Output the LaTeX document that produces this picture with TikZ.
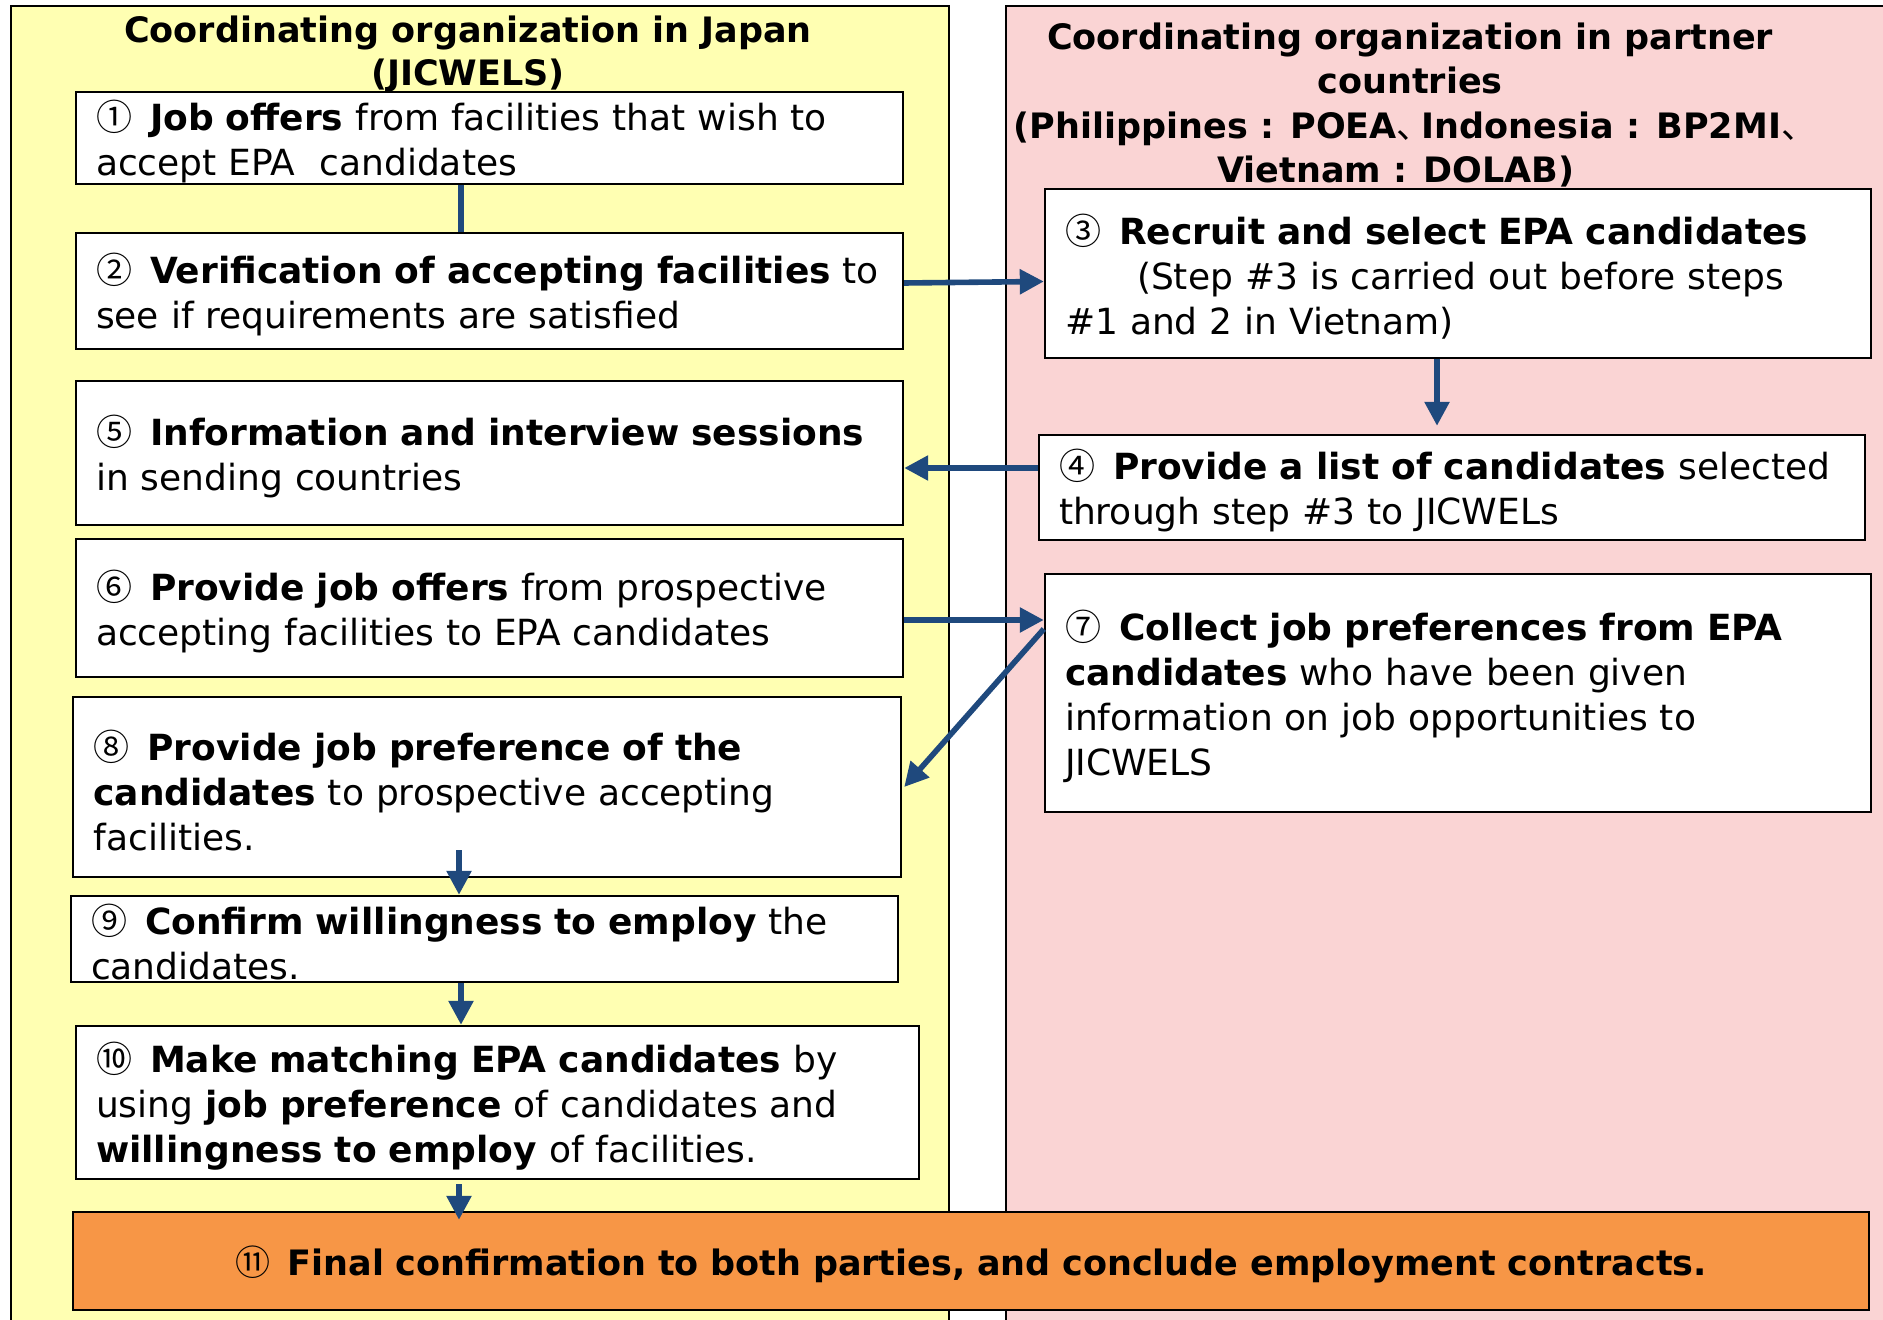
\documentclass[tikz,border=0pt]{standalone}
\usepackage{fontspec}
\setmainfont{DejaVu Sans}
\newfontfamily\cjk{Noto Sans CJK JP}
\usetikzlibrary{arrows.meta}
\definecolor{panelyellow}{RGB}{255,255,178}
\definecolor{panelpink}{RGB}{250,212,212}
\definecolor{flowblue}{RGB}{31,73,125}
\definecolor{finalorange}{RGB}{247,150,70}
\newcommand{\jpcomma}{\makebox[0.72em][l]{\cjk\mdseries 、}}
\newcommand{\stepno}[1]{\raisebox{0pt}[0pt][0pt]{\cjk\mdseries #1}\enspace}

\begin{document}
\begin{tikzpicture}[x=0.5pt, y=-0.5pt,
  font=\fontsize{18}{22.5}\selectfont,
  stepbox/.style={draw=black, line width=1.2pt, fill=white, inner xsep=10pt, inner ysep=0pt,
    align=left, minimum width=413.5pt, text width=393.5pt,
    execute at begin node={\rule{0pt}{18.5pt}}},
  flow/.style={draw=flowblue, line width=2.8pt, -{Triangle[length=12pt,width=12pt]}},
  header/.style={font=\fontsize{17.5}{21.6}\selectfont\bfseries, align=center}]
\useasboundingbox (0,0) rectangle (1883,1320);
\clip (0,0) rectangle (1883,1320);

% Draw the two panels
\fill[panelyellow] (11,6) rectangle (949,1340);
\draw[line width=1pt] (11,6) rectangle (949,1340);
\fill[panelpink] (1006,6) rectangle (1900,1340);
\draw[line width=1pt] (1006,6) rectangle (1900,1340);

% Panel titles
\node[header] (japan) at (468,54) {Coordinating organization in Japan\\(JICWELS)};
\node[header, font=\fontsize{17.5}{22.2}\selectfont\bfseries] (partner) at (1410,105) {Coordinating organization in partner\\countries\\(Philippines : POEA\jpcomma Indonesia : BP2MI\jpcomma\\Vietnam : DOLAB)\hspace*{14pt}};

% Steps in Japan
\node[stepbox, minimum height=46pt] (offers) at (489.5,138)
  {\stepno{①}\textbf{Job offers} from facilities that wish to\\accept EPA\ \ candidates};
\node[stepbox, minimum height=58pt] (verify) at (489.5,291)
  {\stepno{②}\textbf{Verification of accepting facilities} to\\see if requirements are satisfied};
\node[stepbox, minimum height=72pt] (session) at (489.5,453)
  {\stepno{⑤}\textbf{Information and interview sessions}\\in sending countries};
\node[stepbox, minimum height=69pt] (provide) at (489.5,608)
  {\stepno{⑥}\textbf{Provide job offers} from prospective\\accepting facilities to EPA candidates};
\node[stepbox, minimum width=414pt, minimum height=90pt] (prefer) at (487,787)
  {\stepno{⑧}\textbf{Provide job preference of the}\\\textbf{candidates} to prospective accepting\\facilities.};
\node[stepbox, minimum height=43pt] (confirm) at (484.5,939)
  {\stepno{⑨}\textbf{Confirm willingness to employ} the\\candidates.};
\node[stepbox, minimum width=421.5pt, text width=401.5pt, minimum height=76.5pt] (match) at (497.5,1102.5)
  {\stepno{⑩}\textbf{Make matching EPA candidates} by\\using \textbf{job preference} of candidates and\\\textbf{willingness to employ} of facilities.};

% Steps in partner countries
\node[stepbox, minimum width=413pt, text width=393pt, minimum height=84.5pt] (recruit) at (1458,273.5)
  {\stepno{③}\textbf{Recruit and select EPA candidates}\\\hspace*{2em}(Step \#3 is carried out before steps\\\#1 and 2 in Vietnam)};
\node[stepbox, minimum width=413pt, text width=393pt, minimum height=52.5pt] (list) at (1452,487.5)
  {\stepno{④}\textbf{Provide a list of candidates} selected\\through step \#3 to JICWELs};
\node[stepbox, minimum width=413pt, text width=393pt, minimum height=119pt] (collect) at (1458,693)
  {\stepno{⑦}\textbf{Collect job preferences from EPA}\\\textbf{candidates} who have been given\\information on job opportunities to\\JICWELS};

% Final step
\node[stepbox, fill=finalorange, minimum width=898pt, text width=878pt, align=center, minimum height=49pt,
  font=\fontsize{17.5}{22.5}\selectfont] (final) at (971,1261)
  {\stepno{⑪}\textbf{Final confirmation to both parties, and conclude employment contracts.}};

% Connectors
\draw[draw=flowblue, line width=2.8pt] ([xshift=-14.25pt]offers.south) -- ([xshift=-14.25pt]verify.north);
\draw[flow] ([yshift=4pt]verify.east) -- ([yshift=-4pt]recruit.west);
\draw[flow] ([xshift=-10.5pt]recruit.south) -- ([xshift=-7.5pt,yshift=4pt]list.north);
\draw[flow] ([yshift=9.75pt]list.west) -- ([yshift=-7.5pt]session.east);
\draw[flow] ([yshift=-6pt]provide.east) -- ([yshift=36.5pt]collect.west);
\draw[flow] ([yshift=32pt]collect.west) -- ([xshift=1pt]prefer.east);
\draw[flow] ([xshift=-14pt,yshift=14pt]prefer.south) -- ([xshift=-12.75pt]confirm.north);
\draw[flow] ([xshift=-11.75pt]confirm.south) -- ([xshift=-18.25pt]match.north);
\draw[flow] ([xshift=-19.25pt,yshift=-2pt]match.south) -- ([xshift=-256pt,yshift=-4.5pt]final.north);
\end{tikzpicture}
\end{document}
